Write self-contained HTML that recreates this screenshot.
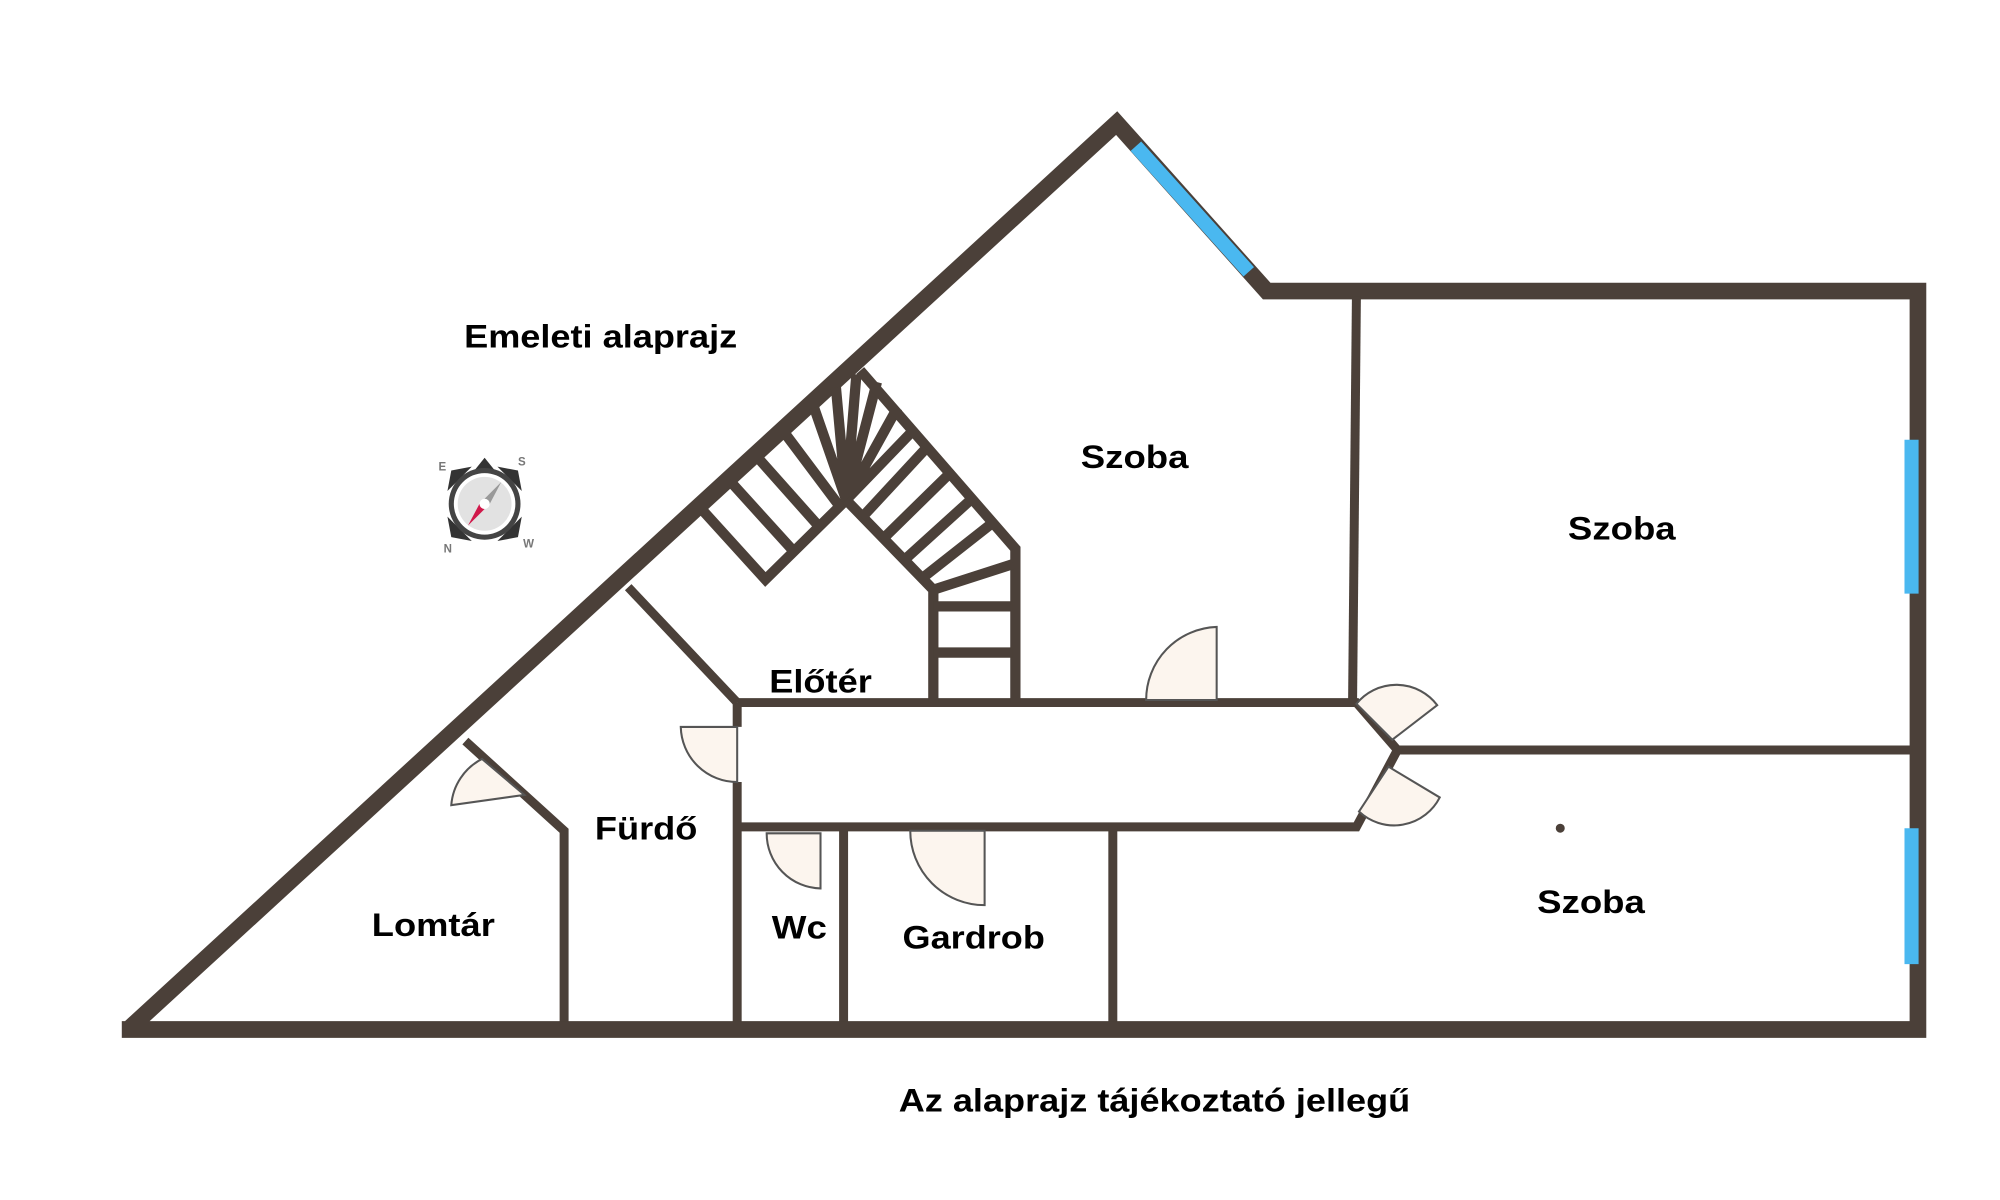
<!DOCTYPE html>
<html><head><meta charset="utf-8"><style>
html,body{margin:0;padding:0;background:#fff;}
svg{display:block}
text{font-family:"Liberation Sans",sans-serif;font-weight:bold;fill:#000;}
</style></head><body>
<svg width="2000" height="1200" viewBox="0 0 1560 936" preserveAspectRatio="none" xmlns="http://www.w3.org/2000/svg">
<rect width="1560" height="936" fill="#fff"/>
<g stroke="#4b4039" fill="none" stroke-linecap="butt" stroke-linejoin="miter">
 <path d="M100,803 L871,96 L988,227 L1496,227 L1496,803 L95,803" stroke-width="13"/>
 <g stroke-width="7">
  <path d="M1058,231 L1055,548"/>
  <path d="M1090,585 L1492,585"/>
  <path d="M575,548 L1058,548 L1090,585 L1058,645 L575,645"/>
  <path d="M575,548 L575,567 M575,610 L575,797"/>
  <path d="M490,458 L575,548"/>
  <path d="M363,578 L440,648 L440,797"/>
  <path d="M658,645 L658,797"/>
  <path d="M868,645 L868,797"/>
 </g>
 <g stroke-width="8">
  <path d="M548,398 L597,452 L660,390"/>
  <path d="M571,377 L620,431"/>
  <path d="M592,358 L640,412"/>
  <path d="M613,339 L655,395"/>
  <path d="M660,390 L635,318 M660,390 L652,302 M660,390 L668,292 M660,390 L684,298 M660,390 L700,318 M660,390 L712,336"/>
  <path d="M671,289 L792,428 L792,548"/>
  <path d="M660,390 L728,460 L728,548"/>
  <path d="M672,404 L722,350"/>
  <path d="M688,421 L740,370"/>
  <path d="M704,438 L757,390"/>
  <path d="M718,452 L774,408"/>
  <path d="M728,460 L790,440"/>
  <path d="M728,473 L790,473"/>
  <path d="M728,509 L790,509"/>
 </g>
</g>
<g stroke="#4ab8f0" stroke-width="11" fill="none">
 <path d="M886,114 L974,212"/>
 <path d="M1491,343 L1491,463"/>
 <path d="M1491,646 L1491,752"/>
</g>
<g fill="#fcf5ee" stroke="#555" stroke-width="1.6">
 <path d="M949,546 L949,489 A57,57 0 0 0 894,546 Z"/>
 <path d="M1086,577 L1058,549 A40,40 0 0 1 1121,550 Z"/>
 <path d="M1083,598 L1060,633 A40,40 0 0 0 1123,622 Z"/>
 <path d="M575,567 L531,567 A44,44 0 0 0 575,610 Z"/>
 <path d="M409,620 L376,592 A44,44 0 0 0 352,628 Z"/>
 <path d="M640,650 L640,693 A43,43 0 0 1 598,650 Z"/>
 <path d="M768,648 L768,706 A58,58 0 0 1 710,648 Z"/>
</g>
<circle cx="1217" cy="646" r="3.5" fill="#4b4039"/>
<g transform="translate(378,393)">
 <polygon points="0,-36 -8,-26 8,-26" fill="#333"/>
 <polygon points="-26,-26 -29,-10 -10,-29" fill="#333"/>
 <polygon points="26,-26 29,-10 10,-29" fill="#333"/>
 <polygon points="-26,26 -29,10 -10,29" fill="#333"/>
 <polygon points="26,26 29,10 10,29" fill="#333"/>
 <circle r="28" fill="#444"/>
 <circle r="24" fill="#fff"/>
 <circle r="21" fill="#e2e2e2"/>
 <polygon points="13,-17 4,0 -4,0" fill="#999"/>
 <polygon points="-13,17 -4,0 4,0" fill="#d0184a"/>
 <circle r="4" fill="#fff"/>
 <text x="-36" y="-26" font-size="9" style="fill:#777">E</text>
 <text x="26" y="-30" font-size="9" style="fill:#777">S</text>
 <text x="-32" y="38" font-size="9" style="fill:#777">N</text>
 <text x="30" y="34" font-size="9" style="fill:#777">W</text>
</g>
<g font-size="25">
<text x="362" y="271" textLength="213" lengthAdjust="spacingAndGlyphs">Emeleti alaprajz</text>
<text x="843" y="365" textLength="84" lengthAdjust="spacingAndGlyphs">Szoba</text>
<text x="1223" y="421" textLength="84" lengthAdjust="spacingAndGlyphs">Szoba</text>
<text x="1199" y="712" textLength="84" lengthAdjust="spacingAndGlyphs">Szoba</text>
<text x="600" y="540" textLength="80" lengthAdjust="spacingAndGlyphs">Előtér</text>
<text x="464" y="655" textLength="80" lengthAdjust="spacingAndGlyphs">Fürdő</text>
<text x="290" y="730" textLength="96" lengthAdjust="spacingAndGlyphs">Lomtár</text>
<text x="602" y="732" textLength="43" lengthAdjust="spacingAndGlyphs">Wc</text>
<text x="704" y="740" textLength="111" lengthAdjust="spacingAndGlyphs">Gardrob</text>
<text x="701" y="867" textLength="399" lengthAdjust="spacingAndGlyphs">Az alaprajz tájékoztató jellegű</text>
</g>
</svg>
</body></html>
